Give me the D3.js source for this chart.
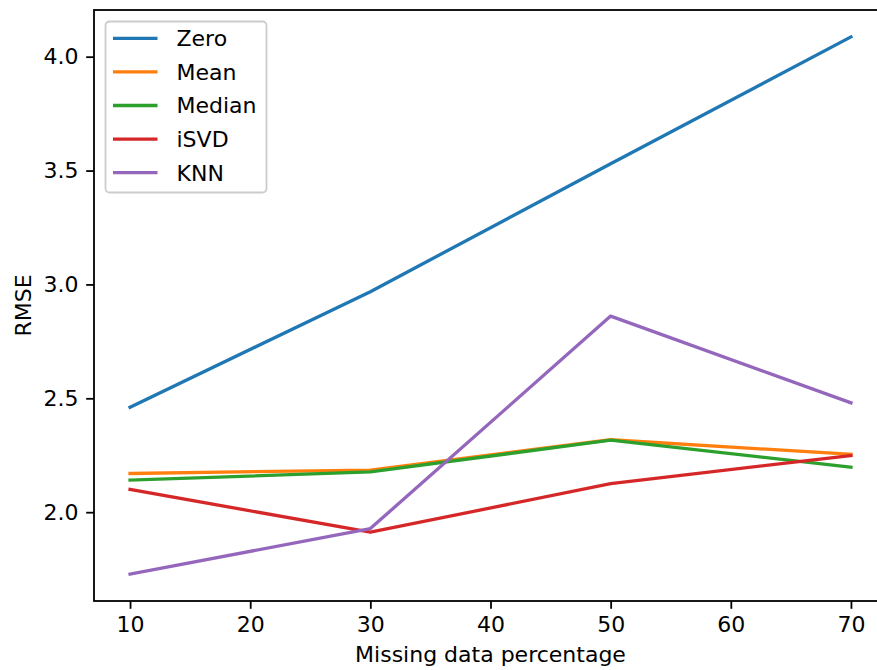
<!DOCTYPE html>
<html>
<head>
<meta charset="utf-8">
<script src="https://cdn.jsdelivr.net/npm/d3@7"></script>
<style>
  body { margin: 0; background: #fff; }
  text { font-family: "DejaVu Sans", sans-serif; fill: #000; }
</style>
</head>
<body>
<div id="chart"></div>
<script>
// missing data percentages on the x axis
var percents = [10, 30, 50, 70];

// RMSE for each imputation method
var zeroVals = [2.461, 2.968, 3.53, 4.087];
var meanVals = [2.17, 2.185, 2.318, 2.254];
var medianVals = [2.141, 2.177, 2.316, 2.198];
var isvdVals = [2.10, 1.912, 2.125, 2.249];
var knnVals = [1.728, 1.928, 2.861, 2.48];

var methodNames = ["Zero", "Mean", "Median", "iSVD", "KNN"];
var methodColors = ["#1f77b4", "#ff7f0e", "#2ca02c", "#d62728", "#9467bd"];

var xTicks = [10, 20, 30, 40, 50, 60, 70];
var yTicks = [2.0, 2.5, 3.0, 3.5, 4.0];

var svgWidth = 877;
var svgHeight = 670;
var margin = { left: 94, top: 10 };
var plotW = 793, plotH = 591;
var fontSize = 22;

var series = [zeroVals, meanVals, medianVals, isvdVals, knnVals].map(function(vals, i) {
  return {
    name: methodNames[i],
    color: methodColors[i],
    points: vals.map(function(v, j) { return { x: percents[j], y: v }; })
  };
});

var svg = d3.select("#chart")
  .append("svg")
  .attr("width", svgWidth)
  .attr("height", svgHeight);

// matplotlib style 5% padding
function padded(ext) {
  var p = (ext[1] - ext[0]) * 0.05;
  return [ext[0] - p, ext[1] + p];
}
var allY = [].concat(zeroVals, meanVals, medianVals, isvdVals, knnVals);

var xScale = d3.scaleLinear()
  .domain(padded(d3.extent(percents)))
  .range([0, plotW]);

var yScale = d3.scaleLinear()
  .domain(padded(d3.extent(allY)))
  .range([plotH, 0]);

var g = svg.append("g")
  .attr("transform", "translate(" + margin.left + "," + margin.top + ")");

// lines
var lineGenerator = d3.line()
  .x(d => xScale(d.x))
  .y(d => yScale(d.y));

g.selectAll(".series")
  .data(series)
  .enter()
  .append("path")
  .attr("fill", "none")
  .attr("stroke", d => d.color)
  .attr("stroke-width", 3.3)
  .attr("stroke-linejoin", "round")
  .attr("stroke-linecap", "square")
  .attr("d", d => lineGenerator(d.points));

// axes
var xAxis = g.append("g")
  .attr("transform", "translate(0," + plotH + ")")
  .call(d3.axisBottom(xScale).tickValues(xTicks).tickFormat(d3.format("d"))
    .tickSize(7.8).tickPadding(7.8).tickSizeOuter(0));

var yAxis = g.append("g")
  .call(d3.axisLeft(yScale).tickValues(yTicks).tickFormat(d3.format(".1f"))
    .tickSize(7.8).tickPadding(7.8).tickSizeOuter(0));

[xAxis, yAxis].forEach(function(ax) {
  ax.select(".domain").remove();
  ax.selectAll(".tick line").attr("stroke", "#000").attr("stroke-width", 1.8);
  ax.selectAll(".tick text")
    .attr("font-size", fontSize)
    .attr("font-family", "DejaVu Sans")
    .attr("fill", "#000");
});

// spines
g.append("rect")
  .attr("width", plotW)
  .attr("height", plotH)
  .attr("fill", "none")
  .attr("stroke", "#000")
  .attr("stroke-width", 1.8);

// axis labels
svg.append("text")
  .attr("x", margin.left + plotW / 2)
  .attr("y", 662)
  .attr("text-anchor", "middle")
  .attr("font-size", fontSize)
  .text("Missing data percentage");

svg.append("text")
  .attr("transform", "translate(30.5," + (margin.top + plotH / 2) + ") rotate(-90)")
  .attr("text-anchor", "middle")
  .attr("font-size", fontSize)
  .text("RMSE");

// legend
var legend = g.append("g").attr("transform", "translate(11.5,11.5)");
var rowH = 33.6;

legend.append("rect")
  .attr("width", 161)
  .attr("height", 171)
  .attr("rx", 4)
  .attr("fill", "#fff")
  .attr("fill-opacity", 0.8)
  .attr("stroke", "#ccc")
  .attr("stroke-width", 1.8);

var rows = legend.selectAll(".row")
  .data(series)
  .enter()
  .append("g")
  .attr("transform", (d, i) => "translate(0," + (16.8 + i * rowH) + ")");

rows.append("line")
  .attr("x1", 7.5)
  .attr("x2", 52)
  .attr("stroke", d => d.color)
  .attr("stroke-width", 3.3);

rows.append("text")
  .attr("x", 71)
  .attr("dy", "0.36em")
  .attr("font-size", fontSize)
  .text(d => d.name);
</script>
</body>
</html>
